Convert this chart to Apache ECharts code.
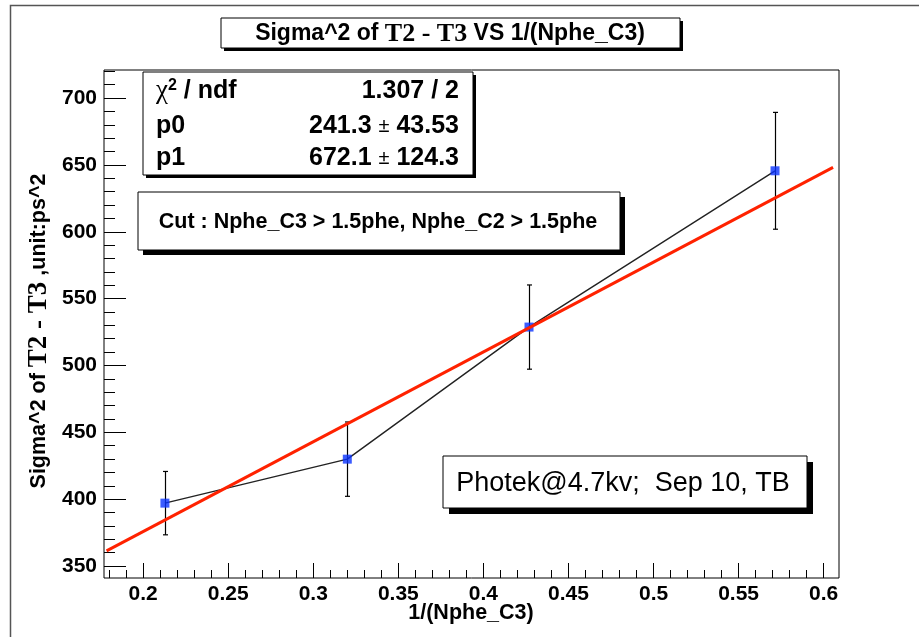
<!DOCTYPE html>
<html><head><meta charset="utf-8">
<script src="https://cdn.jsdelivr.net/npm/echarts@6/dist/echarts.min.js"></script>
<style>html,body{margin:0;padding:0;background:#fff}#c{width:919px;height:637px}</style>
</head><body><div id="c"></div>
<script>
// ---- data ----
const xValues = [0.2128, 0.3200, 0.4268, 0.5714];
const yValues = [397.0, 429.9, 528.7, 645.6];
const yErrors = [23.7, 27.8, 31.5, 43.7];
const fitX = [0.1785, 0.6055];
const fitY = [361.3, 648.2];
const xMajorTicks = [0.2, 0.25, 0.3, 0.35, 0.4, 0.45, 0.5, 0.55, 0.6];
const xMinorTicks = [0.18, 0.19, 0.21, 0.22, 0.23, 0.24, 0.26, 0.27, 0.28, 0.29, 0.31, 0.32, 0.33, 0.34, 0.36, 0.37, 0.38, 0.39, 0.41, 0.42, 0.43, 0.44, 0.46, 0.47, 0.48, 0.49, 0.51, 0.52, 0.53, 0.54, 0.56, 0.57, 0.58, 0.59];
const yMajorTicks = [350, 400, 450, 500, 550, 600, 650, 700];
const yMinorTicks = [360, 370, 380, 390, 410, 420, 430, 440, 460, 470, 480, 490, 510, 520, 530, 540, 560, 570, 580, 590, 610, 620, 630, 640, 660, 670, 680, 690, 710, 720];
const xRange = [0.177, 0.609];
const yRange = [341, 721];
const statLabels = ['{chi|\u03c7}{sup|2}{b| / ndf}', '{b|p0}', '{b|p1}'];
const statValues = ['{b|1.307 / 2}', '{b|241.3 }{pm|\u00b1}{b| 43.53}', '{b|672.1 }{pm|\u00b1}{b| 124.3}'];
const titleText = '{s|Sigma^2 of }{t|T2 - T3}{s| VS 1/(Nphe_C3)}';
const xTitle = '1/(Nphe_C3)';
const yTitle = '{s|Sigma^2 of }{t|T2 - T3}{s| ,unit:ps^2}';
const cutText = 'Cut : Nphe_C3 > 1.5phe, Nphe_C2 > 1.5phe';
const noteText = 'Photek@4.7kv;  Sep 10, TB';

const SANS = 'Liberation Sans';
const SERIF = 'Liberation Serif';
const chart = echarts.init(document.getElementById('c'), null, {renderer: 'canvas'});

function box(x, y, w, h, sh) {
  return [
    {type: 'rect', z: 100, shape: {x: x + sh, y: y + sh, width: w, height: h}, style: {fill: '#000'}},
    {type: 'rect', z: 101, shape: {x: x, y: y, width: w, height: h}, style: {fill: '#fff', stroke: '#000', lineWidth: 1}}
  ];
}

const graphics = [
  {type: 'rect', z: 1, shape: {x: 10.5, y: 5.5, width: 950, height: 700}, style: {fill: 'none', stroke: '#555', lineWidth: 1.5}},
  ...box(221, 18, 459, 30, 3),
  {type: 'text', z: 102, x: 450, y: 34, style: {text: titleText, align: 'center', verticalAlign: 'middle',
    rich: {s: {fontFamily: SANS, fontWeight: 'bold', fontSize: 23, fill: '#000'}, t: {fontFamily: SERIF, fontWeight: 'bold', fontSize: 26, fill: '#000'}}}},
  ...box(143, 72, 330, 103, 3),
  ...box(138, 192, 482, 58, 5),
  {type: 'text', z: 102, x: 378, y: 222, style: {text: cutText, align: 'center', verticalAlign: 'middle', fontFamily: SANS, fontWeight: 'bold', fontSize: 21.5, fill: '#000'}},
  ...box(443, 456, 364, 52, 6),
  {type: 'text', z: 102, x: 623, y: 484, style: {text: noteText, align: 'center', verticalAlign: 'middle', fontFamily: SANS, fontSize: 27, fill: '#000'}},
  {type: 'text', z: 102, x: 471, y: 613, style: {text: xTitle, align: 'center', verticalAlign: 'middle', fontFamily: SANS, fontWeight: 'bold', fontSize: 21.5, fill: '#000'}},
  {type: 'text', z: 102, x: 39, y: 331, rotation: Math.PI / 2, style: {text: yTitle, align: 'center', verticalAlign: 'middle',
    rich: {s: {fontFamily: SANS, fontWeight: 'bold', fontSize: 21.5, fill: '#000'}, t: {fontFamily: SERIF, fontWeight: 'bold', fontSize: 27, fill: '#000'}}}}
];
const statRowsY = [91, 126, 158];
const statRich = {
  b: {fontFamily: SANS, fontWeight: 'bold', fontSize: 25, fill: '#000'},
  chi: {fontFamily: SERIF, fontSize: 27, fill: '#000'},
  sup: {fontFamily: SANS, fontWeight: 'bold', fontSize: 16, fill: '#000', verticalAlign: 'top'},
  pm: {fontFamily: SANS, fontSize: 20, fill: '#000'}
};
statLabels.forEach((t, i) => {
  graphics.push({type: 'text', z: 102, x: 156, y: statRowsY[i], style: {text: t, align: 'left', verticalAlign: 'middle', rich: statRich}});
  graphics.push({type: 'text', z: 102, x: 459, y: statRowsY[i], style: {text: statValues[i], align: 'right', verticalAlign: 'middle', rich: statRich}});
});

const errData = xValues.map((x, i) => [x, yValues[i], yErrors[i]]);
const ptData = xValues.map((x, i) => [x, yValues[i]]);
const fitData = fitX.map((x, i) => [x, fitY[i]]);

const labelStyle = {fontFamily: SANS, fontWeight: 'bold', fontSize: 21, color: '#000'};

chart.setOption({
  animation: false,
  backgroundColor: '#fff',
  grid: {left: 104, top: 70, width: 735, height: 508, show: true, borderColor: '#000', borderWidth: 1, backgroundColor: 'transparent'},
  xAxis: [
    {type: 'value', min: xRange[0], max: xRange[1], position: 'bottom', splitLine: {show: false},
      axisLine: {show: false},
      axisTick: {show: true, inside: true, length: 15, customValues: xMajorTicks, lineStyle: {color: '#000', width: 1}},
      axisLabel: {show: true, customValues: xMajorTicks, margin: 6, ...labelStyle, formatter: v => String(+v.toFixed(2))}},
    {type: 'value', min: xRange[0], max: xRange[1], position: 'bottom', splitLine: {show: false},
      axisLine: {show: false}, axisLabel: {show: false},
      axisTick: {show: true, inside: true, length: 8, customValues: xMinorTicks, lineStyle: {color: '#000', width: 1}}}
  ],
  yAxis: [
    {type: 'value', min: yRange[0], max: yRange[1], position: 'left', splitLine: {show: false},
      axisLine: {show: false},
      axisTick: {show: true, inside: true, length: 22, customValues: yMajorTicks, lineStyle: {color: '#000', width: 1}},
      axisLabel: {show: true, customValues: yMajorTicks, margin: 7, ...labelStyle}},
    {type: 'value', min: yRange[0], max: yRange[1], position: 'left', splitLine: {show: false},
      axisLine: {show: false}, axisLabel: {show: false},
      axisTick: {show: true, inside: true, length: 11, customValues: yMinorTicks, lineStyle: {color: '#000', width: 1}}}
  ],
  series: [
    {type: 'line', data: ptData, showSymbol: false, symbol: 'none', z: 2,
      lineStyle: {color: '#222', width: 1.4}},
    {type: 'custom', data: errData, z: 3,
      renderItem: (params, api) => {
        const x = api.value(0), y = api.value(1), e = api.value(2);
        const top = api.coord([x, y + e]);
        const bot = api.coord([x, y - e]);
        const cx = Math.round(top[0]) + 0.5;
        const hw = 2.5;
        const st = {stroke: '#000', lineWidth: 1.2};
        return {type: 'group', children: [
          {type: 'line', shape: {x1: cx, y1: top[1], x2: cx, y2: bot[1]}, style: st},
          {type: 'line', shape: {x1: cx - hw, y1: top[1], x2: cx + hw, y2: top[1]}, style: st},
          {type: 'line', shape: {x1: cx - hw, y1: bot[1], x2: cx + hw, y2: bot[1]}, style: st}
        ]};
      }},
    {type: 'scatter', data: ptData, symbol: 'rect', symbolSize: 9, z: 4,
      itemStyle: {color: '#0a33ff'}},
    {type: 'line', data: fitData, showSymbol: false, symbol: 'none', z: 5,
      lineStyle: {color: '#ff2200', width: 3}}
  ],
  graphic: graphics
});
</script>
</body></html>
